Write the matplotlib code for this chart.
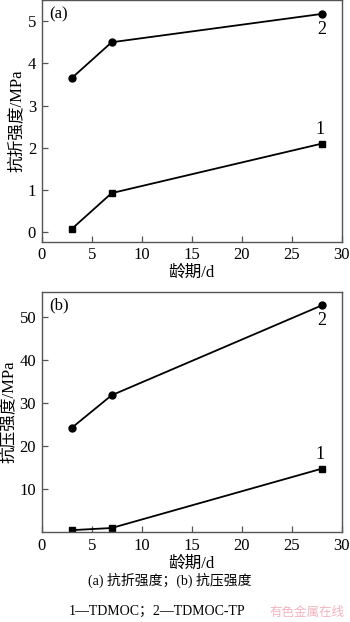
import matplotlib
matplotlib.use('Agg')
import matplotlib.pyplot as plt

plt.rcParams['font.family'] = ['Liberation Serif', 'Noto Sans CJK SC']

# curing age, d
age = [3, 7, 28]

# (a) flexural strength, MPa
flex_1 = [0.08, 0.93, 2.10]   # TDMOC
flex_2 = [3.65, 4.50, 5.17]   # TDMOC-TP

# (b) compressive strength, MPa
comp_1 = [0.5, 1.0, 14.8]
comp_2 = [24.3, 31.9, 52.8]

x_ticks = [0, 5, 10, 15, 20, 25, 30]
ya_ticks = [0, 1, 2, 3, 4, 5]
yb_ticks = [10, 20, 30, 40, 50]

fig = plt.figure(figsize=(3.5, 6.22), dpi=100)
ax1 = fig.add_axes([0.119, 0.6114, 0.857, 0.3886])
ax2 = fig.add_axes([0.119, 0.1442, 0.857, 0.3868])

fs = 12
spine_c = '#555555'


def style(ax):
    for s in ax.spines.values():
        s.set_color(spine_c)
        s.set_linewidth(1.0)
    ax.tick_params(direction='in', length=4, width=0.9, color=spine_c,
                   labelsize=fs, pad=4)
    ax.set_xlim(0, 30)
    ax.set_xticks(x_ticks)
    ax.set_xlabel('龄期/d', fontsize=fs, labelpad=1)


# top panel
ax1.plot(age, flex_1, color='black', lw=1.3, marker='s', ms=5)
ax1.plot(age, flex_2, color='black', lw=1.3, marker='o', ms=5)
style(ax1)
ax1.set_ylim(-0.22, 5.5)
ax1.set_yticks(ya_ticks)
ax1.set_ylabel('抗折强度/MPa', fontsize=fs, labelpad=2)
ax1.text(0.025, 0.975, '(a)', transform=ax1.transAxes, fontsize=fs, va='top')
ax1.annotate('1', (age[-1], flex_1[-1]), xytext=(-1, 4), textcoords='offset points',
             ha='center', va='bottom', fontsize=fs + 1)
ax1.annotate('2', (age[-1], flex_2[-1]), xytext=(0, -5), textcoords='offset points',
             ha='center', va='top', fontsize=fs + 1)

# bottom panel
ax2.plot(age, comp_1, color='black', lw=1.3, marker='s', ms=5)
ax2.plot(age, comp_2, color='black', lw=1.3, marker='o', ms=5)
style(ax2)
ax2.set_ylim(0, 56)
ax2.set_yticks(yb_ticks)
ax2.set_ylabel('抗压强度/MPa', fontsize=fs, labelpad=2)
ax2.text(0.025, 0.975, '(b)', transform=ax2.transAxes, fontsize=fs, va='top')
ax2.annotate('1', (age[-1], comp_1[-1]), xytext=(-1, 4), textcoords='offset points',
             ha='center', va='bottom', fontsize=fs + 1)
ax2.annotate('2', (age[-1], comp_2[-1]), xytext=(0, -5), textcoords='offset points',
             ha='center', va='top', fontsize=fs + 1)

# caption
fig.text(0.485, 1 - 580 / 622, '(a) 抗折强度；(b) 抗压强度', ha='center', va='center', fontsize=10)
fig.text(0.45, 1 - 611 / 622, '1—TDMOC；2—TDMOC-TP', ha='center', va='center', fontsize=10)
fig.text(0.985, 1 - 612 / 622, '有色金属在线', ha='right', va='center', fontsize=9,
         color='#f0a0b0', family=['Noto Sans CJK SC'], alpha=0.8)

fig.savefig('out.png', dpi=100)
